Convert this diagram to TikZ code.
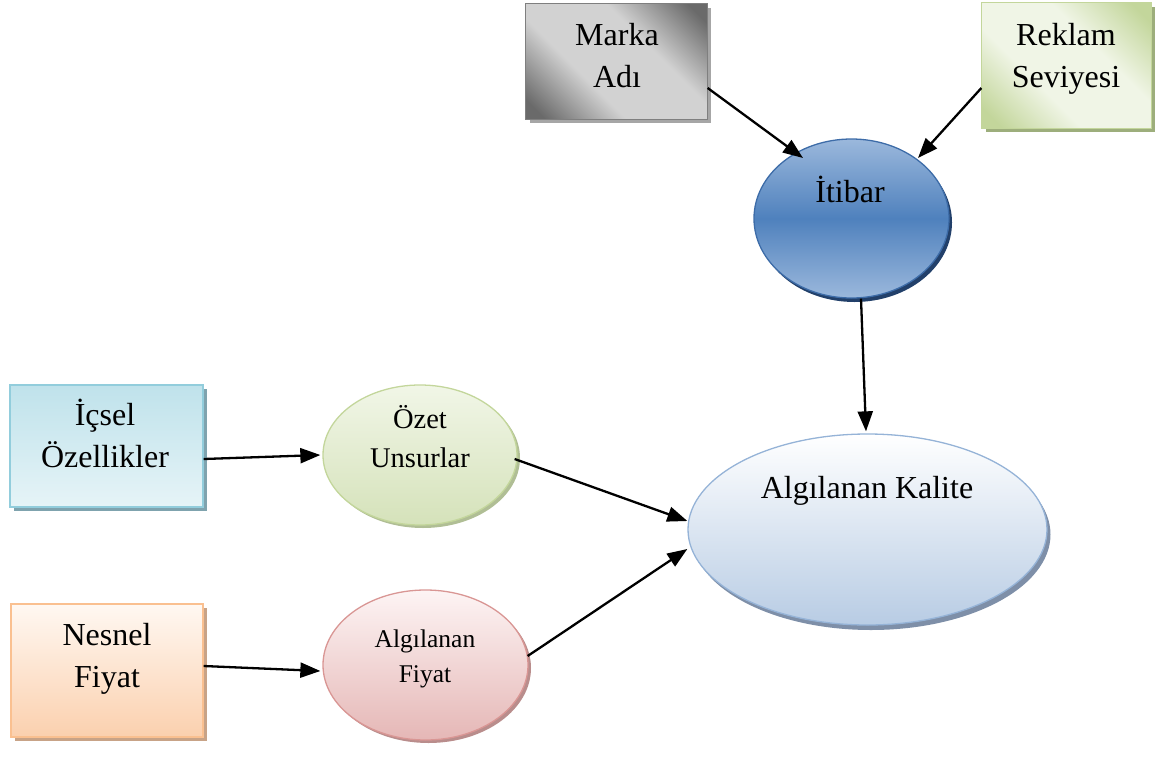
\documentclass[tikz,border=0pt]{standalone}
\usepackage{fontspec}
\setmainfont{Liberation Serif}
\usetikzlibrary{shapes.geometric,arrows.meta,calc}

\definecolor{greyDark}{HTML}{6A6A6A}
\definecolor{greyLight}{HTML}{D2D2D2}
\definecolor{greyLine}{HTML}{7F7F7F}
\definecolor{greyShadow}{HTML}{A6A6A6}
\definecolor{grnDark}{HTML}{C3D69B}
\definecolor{grnLight}{HTML}{F0F5E6}
\definecolor{grnShadow}{HTML}{9DAE7C}
\definecolor{bluMid}{HTML}{4F81BD}
\definecolor{bluLight}{HTML}{9BB8DC}
\definecolor{bluLine}{HTML}{3D6CA8}
\definecolor{bluShadow}{HTML}{22406A}
\definecolor{cyaTop}{HTML}{BFE2EB}
\definecolor{cyaBot}{HTML}{E6F4F7}
\definecolor{cyaLine}{HTML}{92CDDC}
\definecolor{cyaShadow}{HTML}{7FA3AE}
\definecolor{pchTop}{HTML}{FFF8F2}
\definecolor{pchBot}{HTML}{FBD0AE}
\definecolor{pchLine}{HTML}{FAC090}
\definecolor{pchShadow}{HTML}{C8A387}
\definecolor{oliTop}{HTML}{F1F6E7}
\definecolor{oliBot}{HTML}{D5E2BA}
\definecolor{oliShadow}{HTML}{B0BE95}
\definecolor{rosTop}{HTML}{FDF4F4}
\definecolor{rosBot}{HTML}{E5B7B6}
\definecolor{rosLine}{HTML}{D99694}
\definecolor{rosShadow}{HTML}{B98D8C}
\definecolor{kalBot}{HTML}{B8CCE4}
\definecolor{kalLine}{HTML}{95B3D7}
\definecolor{kalShadow}{HTML}{7E8FA8}

% diagonal "metal" fills: dark corners, broad light band across the middle
\pgfdeclareverticalshading{greymetal}{100bp}{color(0bp)=(greyDark); color(31bp)=(greyDark);
  color(43bp)=(greyLight); color(57bp)=(greyLight); color(69bp)=(greyDark); color(100bp)=(greyDark)}
\pgfdeclareverticalshading{greenmetal}{100bp}{color(0bp)=(grnDark); color(31bp)=(grnDark);
  color(43bp)=(grnLight); color(57bp)=(grnLight); color(69bp)=(grnDark); color(100bp)=(grnDark)}

\tikzset{
  boxnode/.style={rectangle, inner sep=0pt, line width=1.3pt},
  ovalnode/.style={ellipse, inner sep=0pt, line width=1.3pt},
  % anchor=base sits on the last line of a multi-line label
  bigtext/.style={anchor=base, align=center, inner sep=0pt,
    font=\fontsize{32}{42}\selectfont},
  midtext/.style={anchor=base, align=center, inner sep=0pt,
    font=\fontsize{28.5}{39}\selectfont},
  smalltext/.style={anchor=base, align=center, inner sep=0pt,
    font=\fontsize{25.5}{35}\selectfont},
  arr/.style={-{Triangle[length=20pt,width=15pt]}, line width=2.3pt},
}

\begin{document}
\begin{tikzpicture}[x=1pt,y=-1pt]
\useasboundingbox (0,0) rectangle (1165,758);

% drop shadows
\fill[greyShadow] (530,8) rectangle (711,123);
\fill[grnShadow] (986,7) rectangle (1155,132);
\fill[cyaShadow] (14,389) rectangle (207,511);
\fill[pchShadow] (15,608) rectangle (207,741);
\fill[bluShadow] (854.5,222.5) ellipse [x radius=97.5pt, y radius=79.5pt];
\fill[oliShadow] (423,458) ellipse [x radius=97pt, y radius=70pt];
\fill[rosShadow] (428.5,668) ellipse [x radius=102.5pt, y radius=75pt];
\fill[kalShadow] (871,534.5) ellipse [x radius=179.5pt, y radius=95.5pt];

% rectangles
\node[boxnode, minimum width=181pt, minimum height=115pt] (marka) at (616.5,61.5) {};
\node[boxnode, minimum width=169pt, minimum height=125pt] (reklam) at (1066.5,65.5) {};
\begin{scope}
  \clip (marka.north west) rectangle (marka.south east);
  \shade[shading=greymetal, transform canvas={rotate around={-45:(marka.center)}}]
    ($(marka.center)+(-120,-120)$) rectangle ($(marka.center)+(120,120)$);
\end{scope}
\begin{scope}
  \clip (reklam.north west) rectangle (reklam.south east);
  \shade[shading=greenmetal, transform canvas={rotate around={-45:(reklam.center)}}]
    ($(reklam.center)+(-118,-118)$) rectangle ($(reklam.center)+(118,118)$);
\end{scope}
\draw[greyLine, line width=1.3pt] (marka.north west) rectangle (marka.south east);
\draw[grnDark, line width=1.3pt] (reklam.north west) rectangle (reklam.south east);

\node[boxnode, draw=cyaLine, minimum width=193pt, minimum height=122pt,
  top color=cyaTop, bottom color=cyaBot] (icsel) at (106.5,446) {};
\node[boxnode, draw=pchLine, minimum width=192pt, minimum height=133pt,
  top color=pchTop, bottom color=pchBot] (nesnel) at (107,670.5) {};

% ellipses
\node[ovalnode, draw=bluLine, minimum width=195pt, minimum height=159pt,
  top color=bluLight, bottom color=bluLight, middle color=bluMid] (itibar) at (851.5,218.5) {};
\node[ovalnode, draw=grnDark, minimum width=194pt, minimum height=140pt,
  top color=oliTop, bottom color=oliBot] (ozet) at (420,455) {};
\node[ovalnode, draw=rosLine, minimum width=205pt, minimum height=150pt,
  top color=rosTop, bottom color=rosBot] (fiyat) at (425.5,665) {};
\node[ovalnode, draw=kalLine, minimum width=359pt, minimum height=191pt,
  top color=white, bottom color=kalBot] (kalite) at (867.5,529.5) {};

% labels
\node[bigtext] (markaT) at (617,87) {Marka\\Adı};
\node[bigtext] (reklamT) at (1066,87) {Reklam\\Seviyesi};
\node[bigtext] (itibarT) at (850,202) {İtibar};
\node[bigtext] (icselT) at (105,467) {İçsel\\Özellikler};
\node[bigtext] (nesnelT) at (107,687) {Nesnel\\Fiyat};
\node[midtext] (ozetT) at (420,467) {Özet\\Unsurlar};
\node[smalltext] (fiyatT) at (425,682) {Algılanan\\Fiyat};
\node[bigtext] (kaliteT) at (867,498) {Algılanan Kalite};

% connectors
\draw[arr] ($(marka.east)+(0,26.5)$) -- ($(itibar.center)+(-48.5,-60.5)$);
\draw[arr] ($(reklam.west)+(0,22.5)$) -- ($(itibar.center)+(66.5,-60.5)$);
\draw[arr] ($(itibar.south)+(9.5,0)$) -- ($(kalite.north)+(-1.5,-2)$);
\draw[arr] ($(icsel.east)+(0,13)$) -- ($(ozet.west)+(-2,0)$);
\draw[arr] ($(ozet.east)+(-3,4)$) -- ($(kalite.west)+(0,-8.5)$);
\draw[arr] ($(nesnel.east)+(0,-4.5)$) -- ($(fiyat.west)+(-2,6)$);
\draw[arr] ($(fiyat.east)+(-1,-9)$) -- ($(kalite.west)+(0,19.5)$);
\end{tikzpicture}
\end{document}
